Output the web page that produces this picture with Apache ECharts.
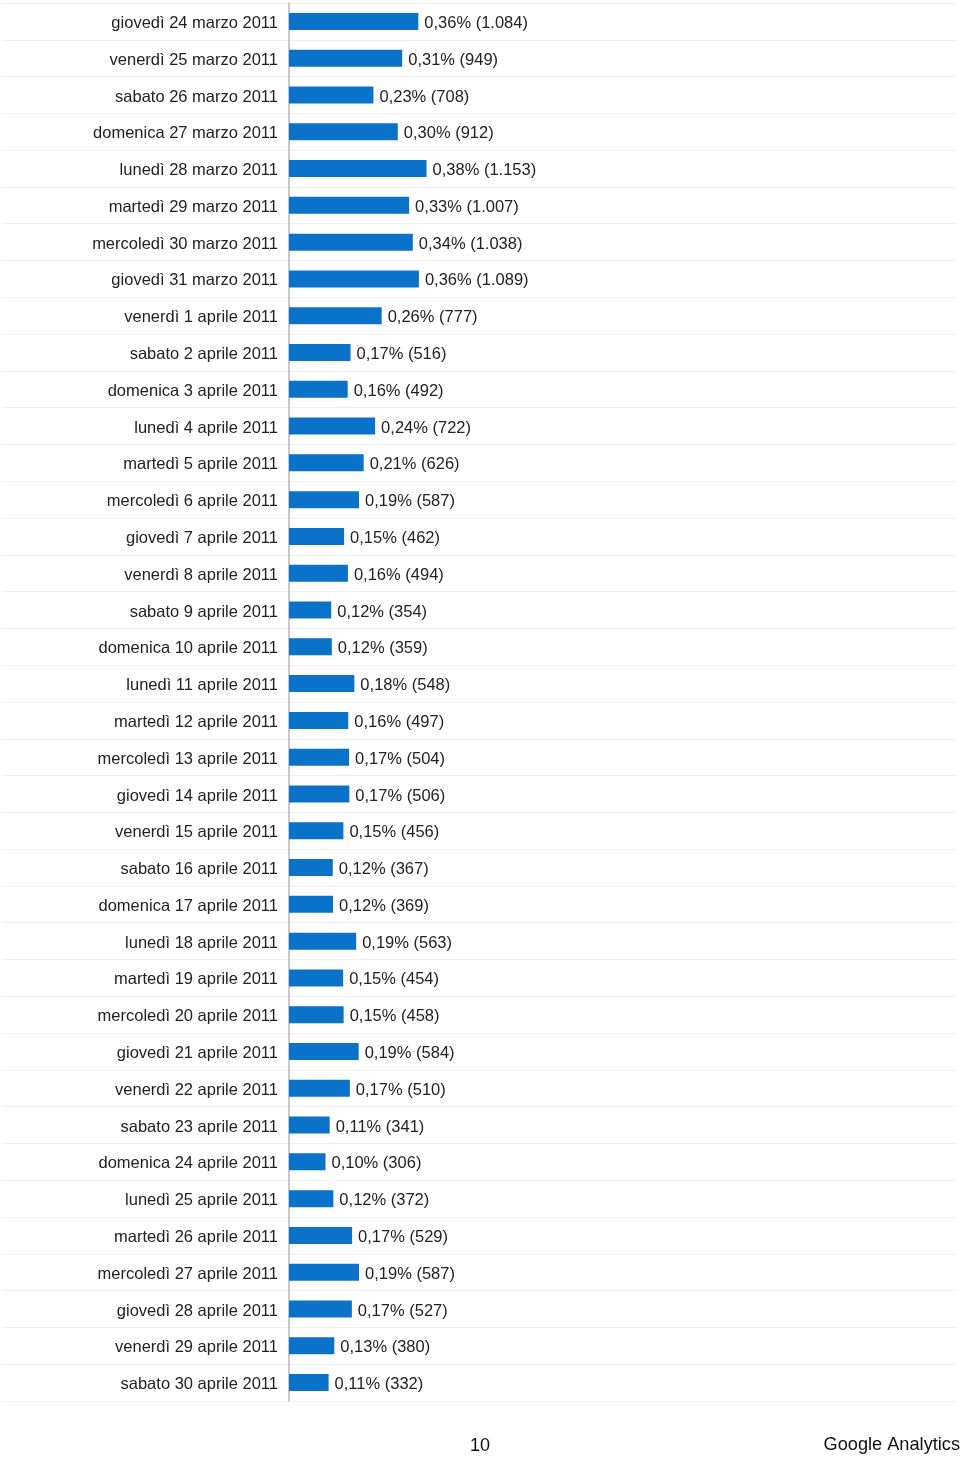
<!DOCTYPE html>
<html>
<head>
<meta charset="utf-8">
<script src="https://cdn.jsdelivr.net/npm/echarts@6/dist/echarts.min.js"></script>
<style>
html,body{margin:0;padding:0;background:#fff;}
#chart{width:960px;height:1458px;}
</style>
</head>
<body>
<div id="chart"></div>
<script>
const categories = [
  "giovedì 24 marzo 2011","venerdì 25 marzo 2011","sabato 26 marzo 2011","domenica 27 marzo 2011",
  "lunedì 28 marzo 2011","martedì 29 marzo 2011","mercoledì 30 marzo 2011","giovedì 31 marzo 2011",
  "venerdì 1 aprile 2011","sabato 2 aprile 2011","domenica 3 aprile 2011","lunedì 4 aprile 2011",
  "martedì 5 aprile 2011","mercoledì 6 aprile 2011","giovedì 7 aprile 2011","venerdì 8 aprile 2011",
  "sabato 9 aprile 2011","domenica 10 aprile 2011","lunedì 11 aprile 2011","martedì 12 aprile 2011",
  "mercoledì 13 aprile 2011","giovedì 14 aprile 2011","venerdì 15 aprile 2011","sabato 16 aprile 2011",
  "domenica 17 aprile 2011","lunedì 18 aprile 2011","martedì 19 aprile 2011","mercoledì 20 aprile 2011",
  "giovedì 21 aprile 2011","venerdì 22 aprile 2011","sabato 23 aprile 2011","domenica 24 aprile 2011",
  "lunedì 25 aprile 2011","martedì 26 aprile 2011","mercoledì 27 aprile 2011","giovedì 28 aprile 2011",
  "venerdì 29 aprile 2011","sabato 30 aprile 2011"
];
const visits = [
  1084,949,708,912,1153,1007,1038,1089,777,516,492,722,626,587,462,494,354,359,548,497,
  504,506,456,367,369,563,454,458,584,510,341,306,372,529,587,527,380,332
];
const percents = [
  "0,36%","0,31%","0,23%","0,30%","0,38%","0,33%","0,34%","0,36%","0,26%","0,17%",
  "0,16%","0,24%","0,21%","0,19%","0,15%","0,16%","0,12%","0,12%","0,18%","0,16%",
  "0,17%","0,17%","0,15%","0,12%","0,12%","0,19%","0,15%","0,15%","0,19%","0,17%",
  "0,11%","0,10%","0,12%","0,17%","0,19%","0,17%","0,13%","0,11%"
];
const pageNumber = "10";
const footerText = "Google Analytics";

function fmt(n){ return String(n).replace(/\B(?=(\d{3})+(?!\d))/g, "."); }

const FONT = "'Liberation Sans', Arial, Helvetica, sans-serif";
const chart = echarts.init(document.getElementById('chart'), null, {renderer:'canvas'});
chart.setOption({
  animation:false,
  backgroundColor:'#ffffff',
  grid:[
    {left:2, right:3, top:3, height:1398, containLabel:false},
    {left:289, right:3, top:3, height:1398, containLabel:false}
  ],
  xAxis:[
    {gridIndex:0, type:'value', min:0, max:1, show:false},
    {gridIndex:1, type:'value', min:0, max:5600, show:false}
  ],
  yAxis:[
    {gridIndex:0, type:'category', data:categories, inverse:true,
     axisLine:{show:false}, axisTick:{show:false}, axisLabel:{show:false},
     splitLine:{show:true, lineStyle:{color:'#f0f0f0', width:1}}},
    {gridIndex:1, type:'category', data:categories, inverse:true,
     axisLine:{show:true, lineStyle:{color:'#c8c8c8', width:2}},
     axisTick:{show:false},
     splitLine:{show:false},
     axisLabel:{show:true, margin:11, verticalAlign:'middle',
       formatter: v => '{a|' + v + '}',
       rich:{a:{color:'#222', fontSize:16.5, fontFamily:FONT, padding:[4,0,0,0]}}}}
  ],
  series:[{
    type:'bar', xAxisIndex:1, yAxisIndex:1,
    data:visits, barWidth:17,
    itemStyle:{color:'#0a72c8'},
    label:{show:true, position:'right', distance:6, offset:[0,2], color:'#222', fontSize:16.5, fontFamily:FONT,
      formatter:p => percents[p.dataIndex] + ' (' + fmt(visits[p.dataIndex]) + ')'}
  }],
  graphic:[
    {type:'text', left:470, top:1437, style:{text:pageNumber, fontSize:18, fontFamily:FONT, fill:'#111'}},
    {type:'text', right:0, top:1436, style:{text:footerText, fontSize:18.2, fontFamily:FONT, fill:'#111'}}
  ]
});
</script>
</body>
</html>
